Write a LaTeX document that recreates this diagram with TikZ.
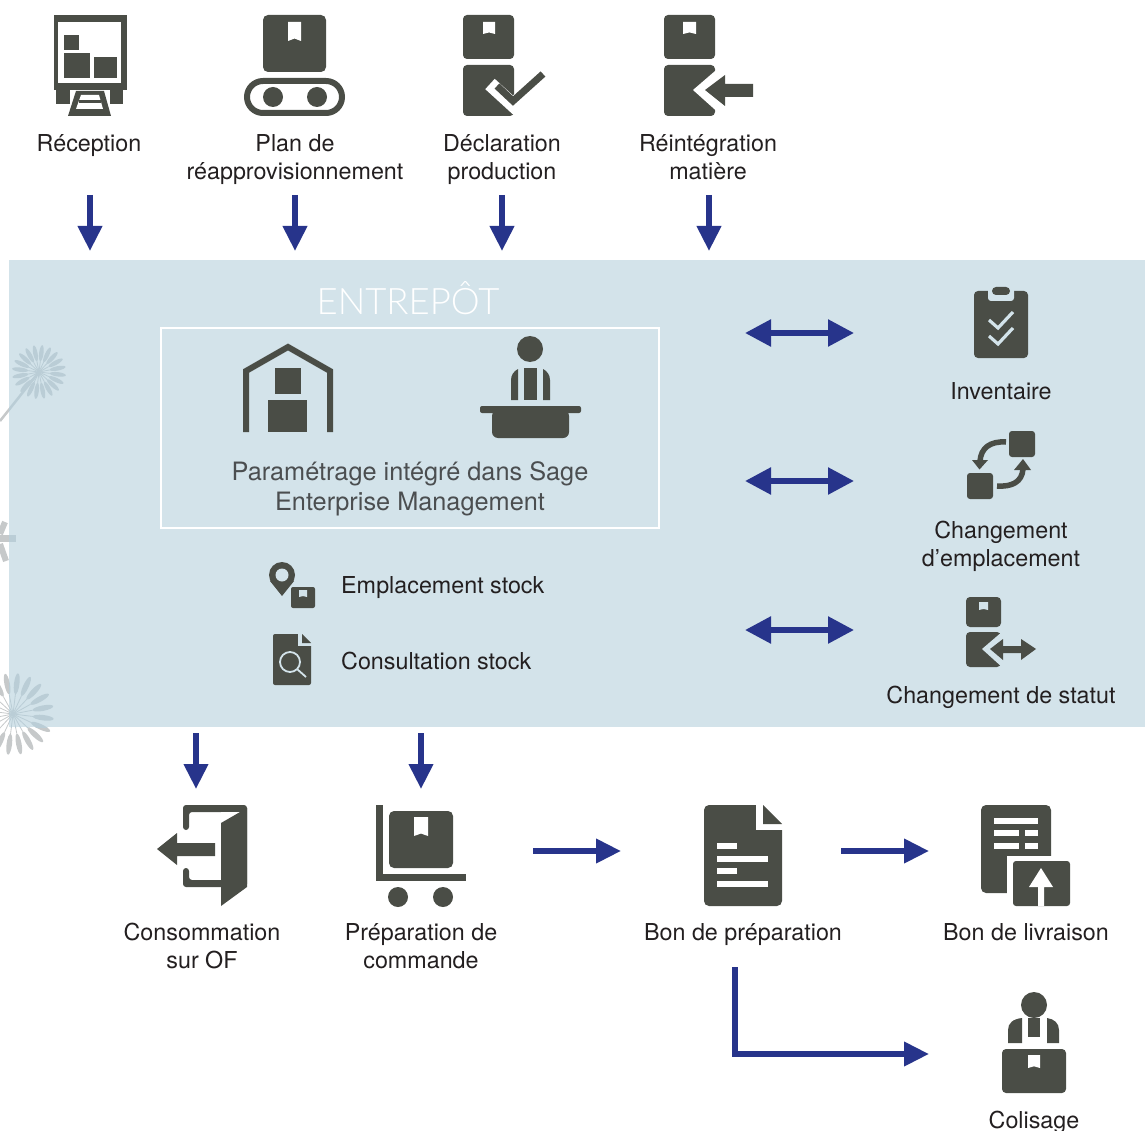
\documentclass[tikz,border=0pt]{standalone}
\usepackage{fontspec}
\setmainfont{TeX Gyre Heros}
\newfontfamily\thinfont{Lato Light}
\usetikzlibrary{
  arrows.meta,
}
\definecolor{panelblue}{HTML}{D3E3EA}
\definecolor{icongray}{HTML}{4A4D46}
\definecolor{flowblue}{HTML}{27348B}
\definecolor{inktext}{HTML}{231F20}
\definecolor{softtext}{HTML}{4B4E50}
\definecolor{seedgray}{HTML}{C6C9CA}
\definecolor{seedblue}{HTML}{BACDD6}
\colorlet{cut}{white}
\colorlet{seed}{seedgray}
% Rounded box of an icon, its bookmark, a plain bar
\newcommand{\bx}[5][4]{\fill[icon,rounded corners=#1pt] (#2,#3) rectangle (#4,#5);}
\newcommand{\br}[4]{\fill[icon] (#1,#2) rectangle (#3,#4);}
\newcommand{\gap}[4]{\fill[cut] (#1,#2) rectangle (#3,#4);}
\newcommand{\bkm}[4]{\fill[cut] (#1,#2) -- (#3,#2) -- (#3,#4)
  -- ({(#1+#3)/2},{#4-(#4-#2)*0.13}) -- (#1,#4) -- cycle;}
\newcommand{\flower}[5]{
  \foreach \a in {0,#5,...,359} {
    \draw[seed,line width=0.8pt] (#1,#2) -- ++(\a+7:#3);
    \fill[seed] (#1,#2) ++(\a+7:{(#3+#4)/2}) ellipse[x radius={(#4-#3)/2},y radius={(#4-#3)/9+0.4},rotate=-\a-7];
  }
}
\newcommand{\plants}{
  \draw[seed,line width=2.5pt] (39,372) -- (0,421);
  \flower{39}{372}{11}{27}{18}
  \flower{13}{714}{20}{41}{18}
  \fill[seed] (0,535) rectangle (16,542);
  \draw[seed,line width=6pt] (0,534) -- (5,522);
  \draw[seed,line width=6pt] (0,544) -- (6,561);
}
\tikzset{
  >=Triangle,
  icon/.style={
    fill=icongray
  },
  iconline/.style={
    draw=icongray,
    line width=6pt
  },
  flow/.style={
    draw=flowblue,
    line width=5.5pt,
    -{Triangle[width=23.5pt,length=25pt]}
  },
  both flow/.style={
    flow,
    {Triangle[width=26pt,length=26pt]}-{Triangle[width=26pt,length=26pt]}
  },
  lbl/.style={
    align=center,
    inner sep=0pt,
    anchor=base,
    text=inktext,
    font=\fontsize{23.3}{28}\selectfont
  },
  soft lbl/.style={
    lbl,
    text=softtext,
    font=\fontsize{25.3}{30}\selectfont
  },
  side lbl/.style={
    lbl,
    anchor=base west
  }
}
\begin{document}
\begin{tikzpicture}[x=1pt,y=-1pt]
\useasboundingbox (0,0) rectangle (1145,1131);
% Background
\plants
\fill[panelblue] (9,260) rectangle (1145,727);
\begin{scope}
  \clip (9,260) rectangle (1145,727);
  \colorlet{seed}{seedblue}
  \plants
\end{scope}
\node[text=white,inner sep=0pt,font=\thinfont\fontsize{36.5}{37}\selectfont] (title) at (408,298.5) {ENTREPÔT};
\node[draw=white,line width=2pt,inner sep=0pt,minimum width=498pt,minimum height=200pt] (frame) at (410,428) {};

% Top row
\br{54}{15}{127}{90}
\gap{58}{22}{121}{83}
\br{64}{35}{79}{50}
\br{64}{53}{90}{78}
\br{94}{57}{117}{78}
\br{56}{90}{70}{104}
\br{110}{90}{123}{104}
\fill[cut] (70,90) rectangle (110,104);
\fill[icon] (76,91) -- (104,91) -- (111,116) -- (68,116) -- cycle;
\fill[cut] (81,95) -- (99,95) -- (103,109) -- (76,109) -- cycle;
\br{79}{100}{101}{103}
\bx[5]{263}{15}{326}{72}
\bkm{288}{22}{301}{41}
\draw[iconline,rounded corners=16pt] (247,81) rectangle (342,113);
\fill[icon] (273,97) circle[radius=10] (317,97) circle[radius=10];

\bx{463}{15}{514}{59}
\bkm{483}{22}{495}{34}
\bx{463}{65}{514}{116}
\draw[cut,line width=14pt] (490,84) -- (513,105) -- (546,74);
\fill[cut] (520,116) rectangle (546,125);
\draw[icongray,line width=7pt] (497,86) -- (513,101) -- (543,74);

\bx{664}{15}{715}{59}
\bkm{683}{22}{696}{34}
\bx{664}{65}{715}{116}
\fill[cut] (693,90) -- (722,65) -- (722,116) -- cycle;
\fill[icon] (705,90) -- (725,75) -- (725,84) -- (753,84) -- (753,97) -- (725,97) -- (725,106) -- cycle;

\node[lbl] (reception) at (89,152)  {Réception};
\node[lbl] (plan)      at (295,180) {Plan de\\réapprovisionnement};
\node[lbl] (decl)      at (502,180) {Déclaration\\production};
\node[lbl] (reint)     at (708,180) {Réintégration\\matière};

\coordinate (a1) at (90,195);  \coordinate (b1) at (90,251);
\coordinate (a2) at (295,195); \coordinate (b2) at (295,251);
\coordinate (a3) at (502,195); \coordinate (b3) at (502,251);
\coordinate (a4) at (709,195); \coordinate (b4) at (709,251);
\draw[flow] (a1) -- (b1);
\draw[flow] (a2) -- (b2);
\draw[flow] (a3) -- (b3);
\draw[flow] (a4) -- (b4);

% Warehouse frame
\colorlet{cut}{panelblue}
\draw[iconline,miter limit=4] (246,432) -- (246,371) -- (288,347) -- (330,371) -- (330,432);
\br{275}{368}{301}{394}
\br{268}{400}{307}{432}
\fill[icon] (530,349) circle[radius=13];
\br{524}{368}{537}{400}
\fill[icon] (511,400) -- (511,380) .. controls (511,375) and (514,371) .. (518,369) -- (518,400) -- cycle;
\fill[icon] (550,400) -- (550,380) .. controls (550,375) and (547,371) .. (543,369) -- (543,400) -- cycle;
\bx[2]{480}{406}{581}{413}
\fill[icon,rounded corners=6pt] (492,410) -- (492,438) -- (569,438) -- (569,410) -- cycle;
\node[soft lbl] (param) at (410,510) {Paramétrage intégré dans Sage\\Enterprise Management};

\fill[icon] (282,575) circle[radius=13];
\fill[icon] (270,581) -- (282,596) -- (294,581) -- cycle;
\fill[cut] (282,575) circle[radius=6.5];
\bx[2]{291}{587}{315}{608}
\bkm{299}{590}{307}{597}
\node[side lbl] (empl) at (341,593) {Emplacement stock};

\bx[2]{273}{634}{311}{685}
\fill[cut] (298,632) rectangle (313,646);
\fill[icon] (302,634) -- (311,643) -- (302,643) -- cycle;
\draw[cut,line width=1.8pt] (290,662) circle[radius=10] (297,669) -- (306,677);
\node[side lbl] (cons) at (341,669) {Consultation stock};

% Right column
\bx{974}{291}{1028}{358}
\fill[cut,rounded corners=3pt] (988,285) rectangle (1014,301);
\bx{992}{287}{1010}{295}
\draw[cut,line width=3.2pt] (989,320) -- (998,328) -- (1013,312);
\draw[cut,line width=3.2pt] (989,336) -- (998,344) -- (1013,328);
\node[lbl] (inv) at (1001,399) {Inventaire};

\bx[3]{1009}{431}{1035}{457}
\bx[3]{967}{473}{993}{499}
\draw[icongray,line width=5.5pt] (1006,442) .. controls (990,441) and (981,448) .. (980,461);
\fill[icon] (972,460) -- (988,460) -- (979.5,469.5) -- cycle;
\draw[icongray,line width=5.5pt] (997,486) .. controls (1012,487) and (1022,482) .. (1023,469);
\fill[icon] (1014,470) -- (1031,470) -- (1023,459) -- cycle;
\node[lbl] (chg) at (1001,566) {Changement\\d’emplacement};

\bx{966}{597}{1001}{627}
\bkm{979}{602}{988}{610}
\bx{966}{632}{1001}{667}
\fill[cut] (982,649) -- (1003,631) -- (1003,668) -- cycle;
\fill[icon] (990,649) -- (1003,639) -- (1003,646) -- (1021,646) -- (1021,639) -- (1036,649)
  -- (1021,660) -- (1021,653) -- (1003,653) -- (1003,660) -- cycle;
\node[lbl] (stat) at (1001,703) {Changement de statut};

\coordinate (c1) at (745,333); \coordinate (d1) at (854,333);
\coordinate (c2) at (745,481); \coordinate (d2) at (854,481);
\coordinate (c3) at (745,630); \coordinate (d3) at (854,630);
\draw[both flow] (c1) -- (d1);
\draw[both flow] (c2) -- (d2);
\draw[both flow] (c3) -- (d3);

% Bottom row
\colorlet{cut}{white}
\fill[icon,rounded corners=3pt] (183,830) -- (183,805) -- (247,805) -- (247,887) -- (183,887) -- (183,868)
  -- (189,868) -- (189,880) -- (241,880) -- (241,812) -- (189,812) -- (189,830) -- cycle;
\fill[cut] (221,812) rectangle (241,880);
\fill[icon] (221,823) -- (247,808) -- (247,887) -- (221,906) -- cycle;
\fill[icon] (157,849) -- (177,833) -- (177,843) -- (215,843) -- (215,856) -- (177,856) -- (177,865) -- cycle;
\node[lbl] (conso) at (202,968) {Consommation\\sur OF};

\br{376}{805}{383}{881}
\br{376}{874}{466}{881}
\bx[5]{389}{811}{453}{868}
\bkm{414}{817}{428}{836}
\fill[icon] (398,897) circle[radius=10] (443,897) circle[radius=10];
\node[lbl] (prep) at (421,968) {Préparation de\\commande};

\bx[5]{704}{805}{782}{906}
\gap{756}{803}{784}{830}
\fill[icon] (763,805) -- (782,824) -- (763,824) -- cycle;
\gap{717}{843}{737}{849}
\gap{717}{856}{768}{862}
\gap{717}{868}{737}{874}
\gap{717}{881}{768}{887}
\node[lbl] (bonprep) at (743,940) {Bon de préparation};

\bx[5]{981}{805}{1051}{893}
\gap{994}{818}{1038}{824}
\gap{994}{830}{1019}{836}
\gap{1025}{830}{1038}{836}
\gap{994}{843}{1019}{849}
\gap{1025}{843}{1038}{849}
\gap{1007}{856}{1053}{895}
\bx[3]{1013}{861}{1070}{906}
\fill[cut] (1041,868) -- (1053,887) -- (1044,887) -- (1044,906) -- (1038,906) -- (1038,887) -- (1029,887) -- cycle;
\node[lbl] (bonliv) at (1026,940) {Bon de livraison};

\fill[icon] (1034,1005) circle[radius=13];
\br{1028}{1018}{1040}{1037}
\fill[icon] (1008,1043) -- (1008,1030) .. controls (1008,1023) and (1013,1019) .. (1022,1018) -- (1022,1043) -- cycle;
\fill[icon] (1059,1043) -- (1059,1030) .. controls (1059,1023) and (1054,1019) .. (1047,1018) -- (1047,1043) -- cycle;
\bx{1002}{1049}{1066}{1093}
\bkm{1028}{1055}{1040}{1068}
\node[lbl] (colis) at (1034,1128) {Colisage};

\coordinate (e1) at (196,733); \coordinate (f1) at (196,789);
\coordinate (e2) at (421,733); \coordinate (f2) at (421,789);
\coordinate (g1) at (533,851); \coordinate (h1) at (621,851);
\coordinate (g2) at (841,851); \coordinate (h2) at (929,851);
\coordinate (k)  at (735,967); \coordinate (m)  at (929,1054);
\draw[flow] (e1) -- (f1);
\draw[flow] (e2) -- (f2);
\draw[flow] (g1) -- (h1);
\draw[flow] (g2) -- (h2);
\draw[flow] (k) |- (m);
\end{tikzpicture}
\end{document}
